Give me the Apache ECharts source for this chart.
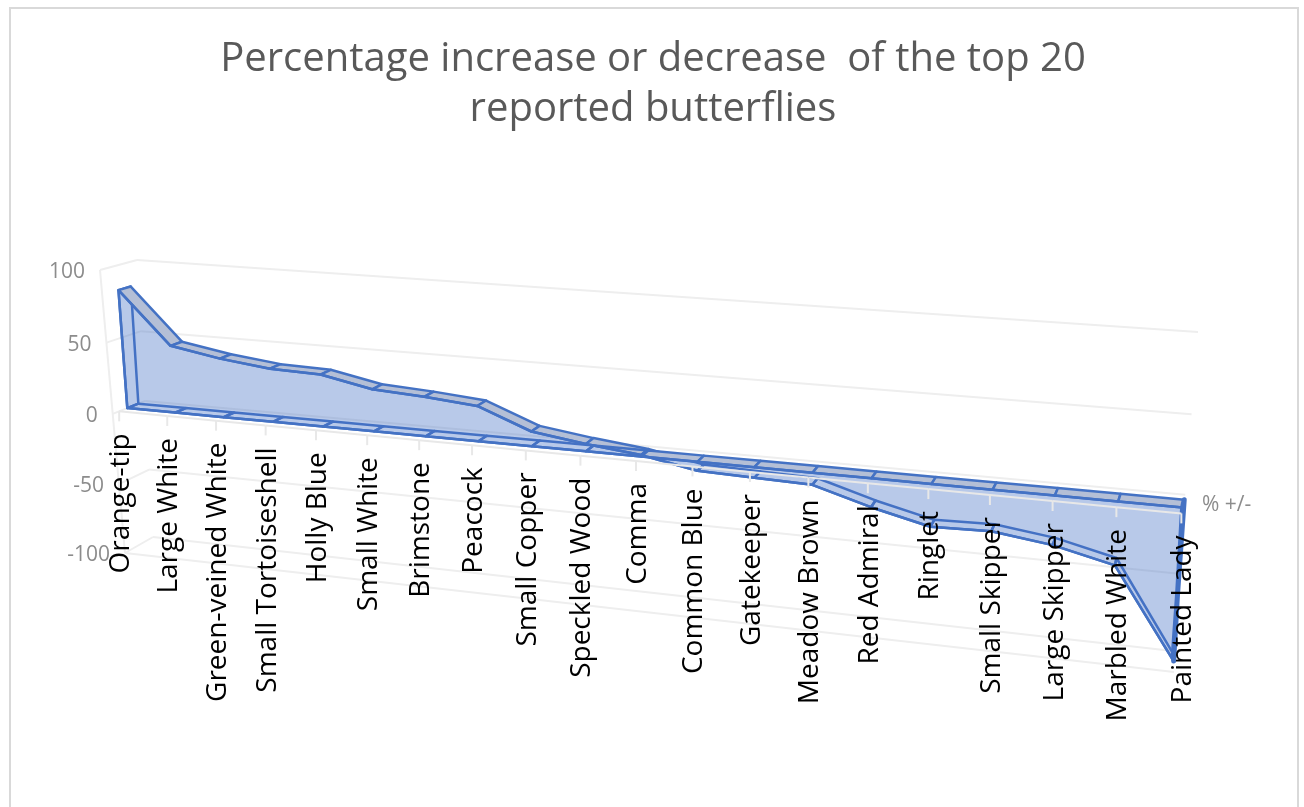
<!DOCTYPE html>
<html>
<head>
<meta charset="utf-8">
<style>
    html,body{margin:0;padding:0;background:#fff;}
    #main{width:1304px;height:807px;}
</style>
<script src="https://cdn.jsdelivr.net/npm/echarts@6/dist/echarts.min.js"></script>
</head>
<body>
<div id="main"></div>
<script>
    var categories = ['Orange-tip','Large White','Green-veined White','Small Tortoiseshell','Holly Blue','Small White','Brimstone','Peacock','Small Copper','Speckled Wood','Comma','Common Blue','Gatekeeper','Meadow Brown','Red Admiral','Ringlet','Small Skipper','Large Skipper','Marbled White','Painted Lady'];
    var values = [83,47,41,37,36,29,27,24,10,5,1,-6,-7,-8,-19,-28,-27,-32,-41,-99];
    var yTicks = [100,50,0,-50,-100];
    var seriesName = '% +/-';
    var titleLines = 'Percentage increase or decrease  of the top 20\nreported butterflies';

    // hidden grid, only supplies the scales
    var G = {left:100, top:100, width:1000, height:400};

    // corners of the front and back planes on screen: bottom-left, bottom-right, top-right, top-left
    var frontPlane = makeHomography([[125,553],[1174,672],[1187,358],[100,270]]);
    var backPlane = makeHomography([[153,537],[1173,651],[1198,332],[137,260]]);
    var faceDepth = 0.45, rearDepth = 0.79, axisDepth = 0.2;
    var frontSqueeze = 1.045; // categories bunch up more towards the left on the front plane

    var lineBlue = '#4472c4';
    var faceFill = 'rgba(68,114,196,0.38)';
    var topFill = '#b4bfd6';
    var gridColor = '#eeeeee';

    function makeHomography(q){
        var x0=q[0][0],y0=q[0][1],x1=q[1][0],y1=q[1][1],x2=q[2][0],y2=q[2][1],x3=q[3][0],y3=q[3][1];
        var dx1=x1-x2,dx2=x3-x2,sx=x0-x1+x2-x3,dy1=y1-y2,dy2=y3-y2,sy=y0-y1+y2-y3;
        var den=dx1*dy2-dx2*dy1;
        var g=(sx*dy2-dx2*sy)/den,h=(dx1*sy-sx*dy1)/den;
        var a=x1-x0+g*x1,b=x3-x0+h*x3,d=y1-y0+g*y1,e=y3-y0+h*y3;
        return function(u,w){
            var k=g*u+h*w+1;
            return [(a*u+b*w+x0)/k,(d*u+e*w+y0)/k];
        };
    }
    // grid pixel -> tilted plane at a given depth (0 front, 1 back)
    function tilt(c,depth){
        var u=(c[0]-G.left)/G.width, w=(G.top+G.height-c[1])/G.height;
        var f=frontPlane(u/(u+(1-u)*frontSqueeze),w), b=backPlane(u,w);
        return [f[0]+(b[0]-f[0])*depth, f[1]+(b[1]-f[1])*depth];
    }
    function line(p,q,color,width){
        return {type:'line',shape:{x1:p[0],y1:p[1],x2:q[0],y2:q[1]},style:{stroke:color,lineWidth:width}};
    }
    function poly(points,fill,stroke,width){
        return {type:'polygon',shape:{points:points},style:{fill:fill,stroke:stroke,lineWidth:width||0,lineJoin:'round'}};
    }

    function renderGrid(params,api){
        var v=yTicks[params.dataIndex], last=categories.length-1, kids=[];
        var a=api.coord([0,v]), b=api.coord([last,v]);
        kids.push(line(tilt(a,0),tilt(a,1),gridColor,2));
        kids.push(line(tilt(a,1),tilt(b,1),gridColor,2));
        if(v===yTicks[yTicks.length-1]) kids.push(line(tilt(a,0),tilt(b,0),gridColor,2));
        if(v===yTicks[0]) kids.push(line(tilt(a,0),tilt(api.coord([0,yTicks[yTicks.length-1]]),0),gridColor,2));
        var p=tilt(a,0);
        kids.push({type:'text',x:p[0]-15,y:p[1]+2,style:{text:String(v),fill:'#8c8c8c',font:'21px "Open Sans"',align:'right',verticalAlign:'middle'}});
        return {type:'group',children:kids};
    }

    function renderFace(params,api){
        if(params.dataIndex!==0) return null;
        var tops=[], bases=[];
        values.forEach(function(val,i){
            tops.push(tilt(api.coord([i,val]),faceDepth));
            bases.unshift(tilt(api.coord([i,0]),faceDepth));
        });
        return poly(tops.concat(bases),faceFill,lineBlue,2.5);
    }

    function renderBands(params,api){
        var i=params.dataIndex, last=categories.length-1, kids=[];
        var val=values[i];
        var p0=api.coord([i,val]), b0=api.coord([i,0]);
        // end caps, the right one is seen almost edge-on
        if(i===0) kids.push(poly([tilt(p0,faceDepth),tilt(p0,rearDepth),tilt(b0,rearDepth),tilt(b0,faceDepth)],'none',lineBlue,2.5));
        if(i===last) kids.push(poly([tilt(p0,faceDepth),tilt(p0,rearDepth),tilt(b0,rearDepth),tilt(b0,faceDepth)],lineBlue,lineBlue,5));
        if(i<last){
            var val2=values[i+1];
            var p1=api.coord([i+1,val2]), b1=api.coord([i+1,0]);
            var up=(val+val2)>=0;
            kids.push(poly([tilt(p0,faceDepth),tilt(p0,rearDepth),tilt(p1,rearDepth),tilt(p1,faceDepth)],up?topFill:'none',lineBlue,2.5));
            kids.push(poly([tilt(b0,faceDepth),tilt(b0,rearDepth),tilt(b1,rearDepth),tilt(b1,faceDepth)],up?'none':topFill,lineBlue,2.5));
        }
        return {type:'group',children:kids};
    }

    function renderAxis(params,api){
        var i=params.dataIndex, last=categories.length-1;
        var c=api.coord([i,0]), p=tilt(c,axisDepth), kids=[];
        if(i<last) kids.push(line(p,tilt(api.coord([i+1,0]),axisDepth),'#e8e8e8',2));
        kids.push(line(p,[p[0],p[1]+10],'#e8e8e8',2));
        kids.push({type:'text',x:p[0]+2,y:p[1]+22,rotation:Math.PI/2,style:{text:categories[i],fill:'#000',font:'28px "Open Sans"',align:'right',verticalAlign:'middle'}});
        return {type:'group',children:kids};
    }

    var chart = echarts.init(document.getElementById('main'));
    chart.setOption({
        animation:false,
        backgroundColor:'#fff',
        title:{
            text:titleLines,
            left:648, textAlign:'center', top:30,
            textStyle:{color:'#595959',fontFamily:'Open Sans',fontSize:40,fontWeight:'normal',lineHeight:50}
        },
        graphic:[
            {type:'rect',shape:{x:10,y:8,width:1288,height:840},style:{fill:'none',stroke:'#d9d9d9',lineWidth:2},z:-1},
            {type:'text',x:1202,y:505,style:{text:seriesName,fill:'#8c8c8c',font:'21px "Open Sans"',verticalAlign:'middle'}}
        ],
        grid:G,
        xAxis:{type:'category',data:categories,boundaryGap:false,show:false},
        yAxis:{type:'value',min:-100,max:100,interval:50,show:false},
        series:[
            {type:'custom',name:'grid',data:yTicks.map(function(v){return [0,v];}),renderItem:renderGrid,clip:false,silent:true,z:1},
            {type:'custom',name:'face',data:values.map(function(v,i){return [i,v];}),renderItem:renderFace,clip:false,silent:true,z:3},
            {type:'custom',name:seriesName,data:values.map(function(v,i){return [i,v];}),renderItem:renderBands,clip:false,silent:true,z:2},
            {type:'custom',name:'axis',data:categories.map(function(c,i){return [i,0];}),renderItem:renderAxis,clip:false,silent:true,z:4}
        ]
    });
</script>
</body>
</html>
